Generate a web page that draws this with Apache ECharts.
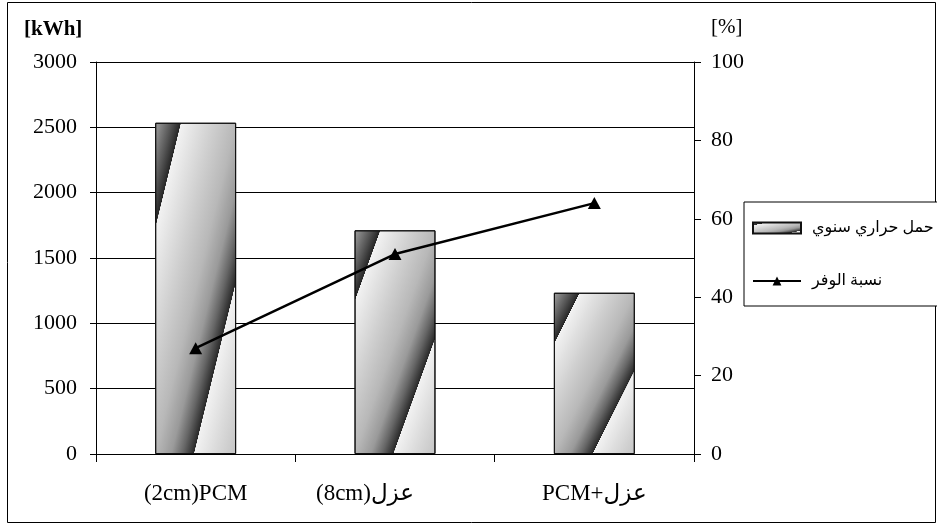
<!DOCTYPE html>
<html>
<head>
<meta charset="utf-8">
<script src="https://cdn.jsdelivr.net/npm/echarts@6/dist/echarts.min.js"></script>
<style>
  html, body { margin: 0; padding: 0; background: #fff; }
  #chart { width: 937px; height: 529px; }
</style>
</head>
<body>
<div id="chart"></div>
<script>
// Scenarios on the category axis
const categories = ['(2cm)PCM', '(8cm)عزل', 'PCM+عزل'];
// Annual heating load [kWh] (bars, left axis)
const annualLoad = [2535, 1712, 1234];
// Saving ratio [%] (line, right axis)
const savingRatio = [27, 51, 64];
// Series names shown in the legend
const loadName = 'حمل حراري سنوي';
const savingName = 'نسبة الوفر';
// Left and right axis tick labels
const leftTicks = [0, 500, 1000, 1500, 2000, 2500, 3000];
const rightTicks = [0, 20, 40, 60, 80, 100];

const FONT = "'Liberation Serif', 'DejaVu Sans', serif";

// Sawtooth "diagonal up" shading: light just after each edge, darkening toward the next
const stripeStops = [
  [0.000, '#9c9c9c'],
  [0.030, '#8a8a8a'],
  [0.100, '#555555'],
  [0.158, '#262626'],
  [0.160, '#f2f2f2'],
  [0.250, '#e2e2e2'],
  [0.360, '#cfcfcf'],
  [0.500, '#b8b8b8'],
  [0.600, '#9a9a9a'],
  [0.670, '#666666'],
  [0.738, '#282828'],
  [0.740, '#f2f2f2'],
  [0.860, '#dcdcdc'],
  [1.000, '#c4c4c4']
];

// Gradient whose bands run corner-to-corner in the bar's own box, for a w x h bar
function stripeFill(w, h) {
  const s = h * h + w * w;
  return new echarts.graphic.LinearGradient(
    0, 0, 2 * h * h / s, 2 * w * w / s,
    stripeStops.map(([offset, color]) => ({ offset, color }))
  );
}

const chart = echarts.init(document.getElementById('chart'), null, { renderer: 'canvas' });

const axisLine = { show: true, lineStyle: { color: '#000', width: 1 } };

// Second label carries trailing room, as typeset in the source document
const categoryItems = categories.map((c, i) => (
  i === 1 ? { value: c, textStyle: { padding: [0, 60, 0, 0] } } : { value: c }
));

const option = {
  animation: false,
  backgroundColor: '#fff',
  textStyle: { fontFamily: FONT },
  grid: { left: 96, right: 243, top: 62, bottom: 75, containLabel: false },
  legend: {
    orient: 'vertical',
    left: 744,
    top: 202,
    padding: [18, 8, 17, 8],
    itemWidth: 48,
    itemHeight: 11,
    itemGap: 37,
    backgroundColor: '#fff',
    borderColor: '#000',
    borderWidth: 1,
    borderRadius: 0,
    selectedMode: false,
    textStyle: { fontFamily: FONT, fontSize: 16, color: '#000', padding: [0, 0, 0, 6] },
    data: [
      { name: loadName, icon: 'rect' },
      { name: savingName }
    ]
  },
  xAxis: {
    type: 'category',
    data: categoryItems,
    boundaryGap: true,
    axisLine: axisLine,
    axisTick: { show: true, length: 8, alignWithLabel: false, lineStyle: { color: '#000', width: 1 } },
    axisLabel: { color: '#000', fontFamily: FONT, fontSize: 23, margin: 28 },
    splitLine: { show: false }
  },
  yAxis: [
    {
      type: 'value',
      min: leftTicks[0],
      max: leftTicks[leftTicks.length - 1],
      interval: leftTicks[1] - leftTicks[0],
      position: 'left',
      axisLine: axisLine,
      axisTick: { show: true, length: 6, lineStyle: { color: '#000', width: 1 } },
      axisLabel: { color: '#000', fontFamily: FONT, fontSize: 22, margin: 19, formatter: v => String(v) },
      splitLine: { show: true, lineStyle: { color: '#000', width: 1 } }
    },
    {
      type: 'value',
      min: rightTicks[0],
      max: rightTicks[rightTicks.length - 1],
      interval: rightTicks[1] - rightTicks[0],
      position: 'right',
      axisLine: axisLine,
      axisTick: { show: true, length: 7, lineStyle: { color: '#000', width: 1 } },
      axisLabel: { color: '#000', fontFamily: FONT, fontSize: 22, margin: 17, align: 'left', formatter: v => String(v) },
      splitLine: { show: false }
    }
  ],
  graphic: [
    {
      type: 'rect', z: -1, silent: true,
      shape: { x: 7.5, y: 2.5, width: 928, height: 520 },
      style: { fill: 'none', stroke: '#000', lineWidth: 1 }
    },
    {
      type: 'text', left: 24, top: 19, silent: true,
      style: { text: '[kWh]', fontFamily: FONT, fontSize: 21, fontWeight: 'bold', fill: '#000' }
    },
    {
      type: 'text', left: 711, top: 17, silent: true,
      style: { text: '[%]', fontFamily: FONT, fontSize: 21, fill: '#000' }
    }
  ],
  series: [
    {
      name: loadName,
      type: 'bar',
      yAxisIndex: 0,
      barWidth: '40.6%',
      data: annualLoad,
      itemStyle: { color: stripeFill(48, 11), borderColor: '#111', borderWidth: 1 },
      z: 2
    },
    {
      name: savingName,
      type: 'line',
      yAxisIndex: 1,
      data: savingRatio,
      symbol: 'triangle',
      symbolSize: [13, 12],
      showAllSymbol: true,
      lineStyle: { color: '#000', width: 2.5 },
      itemStyle: { color: '#000' },
      z: 5
    }
  ]
};

chart.setOption(option);

// Give each bar a shading stretched to its own size
const barData = chart.getModel().getSeriesByIndex(0).getData();
chart.setOption({
  series: [{
    data: annualLoad.map((value, i) => {
      const box = barData.getItemLayout(i);
      return {
        value: value,
        itemStyle: { color: stripeFill(Math.abs(box.width), Math.abs(box.height)) }
      };
    })
  }, {}]
});
</script>
</body>
</html>
